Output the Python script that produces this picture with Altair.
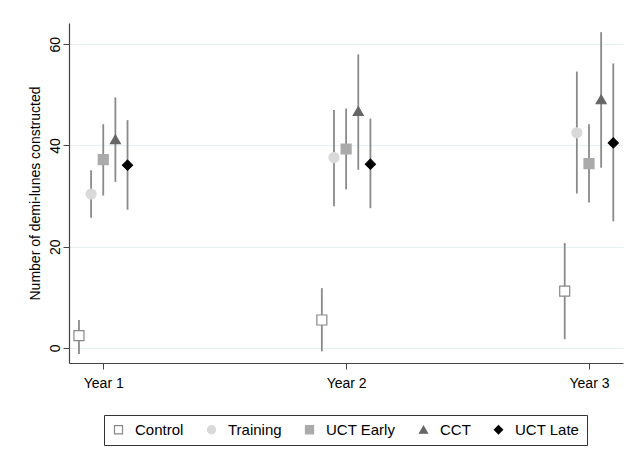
import altair as alt
import pandas as pd

groups = ["Control", "Training", "UCT Early", "CCT", "UCT Late"]
offsets = [-0.1, -0.05, 0.0, 0.05, 0.1]
years = [1, 2, 3]
year_labels = ["Year 1", "Year 2", "Year 3"]

# estimates per group, per year
est = {
    "Control":   [2.4, 5.5, 11.2],
    "Training":  [30.4, 37.6, 42.5],
    "UCT Early": [37.2, 39.3, 36.4],
    "CCT":       [41.2, 46.8, 49.1],
    "UCT Late":  [36.1, 36.3, 40.5],
}
lo = {
    "Control":   [-1.2, -0.7, 1.7],
    "Training":  [25.7, 28.0, 30.5],
    "UCT Early": [30.1, 31.3, 28.7],
    "CCT":       [32.8, 35.2, 35.6],
    "UCT Late":  [27.3, 27.6, 25.0],
}
hi = {
    "Control":   [5.5, 11.8, 20.7],
    "Training":  [35.1, 47.0, 54.6],
    "UCT Early": [44.2, 47.3, 44.2],
    "CCT":       [49.5, 58.0, 62.4],
    "UCT Late":  [45.0, 45.3, 56.2],
}

shapes = ["square", "circle", "square", "triangle-up", "diamond"]
fills = ["white", "#d9d9d9", "#aaaaaa", "#666666", "#000000"]
strokes = ["#888888", "#d9d9d9", "#aaaaaa", "#666666", "#000000"]

rows = []
for g, off in zip(groups, offsets):
    for i, yr in enumerate(years):
        rows.append({"group": g, "x": yr + off, "est": est[g][i],
                     "lo": lo[g][i], "hi": hi[g][i]})
df = pd.DataFrame(rows)

FONT = "Liberation Sans"

xscale = alt.Scale(domain=[0.859, 3.14], nice=False, zero=False)
yscale = alt.Scale(domain=[-3.0, 64.2], nice=False, zero=False)

base = alt.Chart(df)

bars = base.mark_rule(color="#8a8a8a", strokeWidth=1.8).encode(
    x=alt.X("x:Q", scale=xscale),
    y=alt.Y("lo:Q", scale=yscale),
    y2="hi:Q",
)

label_expr = "datum.value == 1 ? 'Year 1' : datum.value == 2 ? 'Year 2' : 'Year 3'"

points = base.mark_point(size=100, strokeWidth=1.2, opacity=1).encode(
    x=alt.X("x:Q", scale=xscale,
            axis=alt.Axis(values=years, labelExpr=label_expr, title=None,
                          grid=False, tickSize=6, labelFontSize=14,
                          labelPadding=7)),
    y=alt.Y("est:Q", scale=yscale,
            axis=alt.Axis(values=[0, 20, 40, 60], title="Number of demi-lunes constructed",
                          labelAngle=-90, labelAlign="center", labelBaseline="bottom",
                          labelFontSize=14, titleFontSize=14, titleFontWeight="normal",
                          tickSize=6, labelPadding=1, titlePadding=6,
                          grid=True, gridColor="#e8eff2")),
    shape=alt.Shape("group:N", scale=alt.Scale(domain=groups, range=shapes), title=None),
    fill=alt.Fill("group:N", scale=alt.Scale(domain=groups, range=fills), title=None),
    stroke=alt.Stroke("group:N", scale=alt.Scale(domain=groups, range=strokes), title=None),
)

chart = alt.layer(bars, points).properties(
    width=554, height=340,
    autosize=alt.AutoSizeParams(type="none"),
    padding={"left": 61, "top": 15, "right": 1, "bottom": 90},
).configure_view(stroke=None).configure_axis(
    domainColor="#444444", tickColor="#444444", labelColor="#000000",
    titleColor="#000000", labelFont=FONT, titleFont=FONT, domainWidth=1.2,
).configure_legend(
    orient="none", legendX=35, legendY=392, direction="horizontal",
    strokeColor="#333333", padding=7, labelFont=FONT, labelFontSize=15,
    labelColor="#000000", columnPadding=20, symbolSize=65, labelOffset=9,
    symbolStrokeWidth=1.2,
)

chart.save("out.html", embed_options={"renderer": "svg", "actions": False})
